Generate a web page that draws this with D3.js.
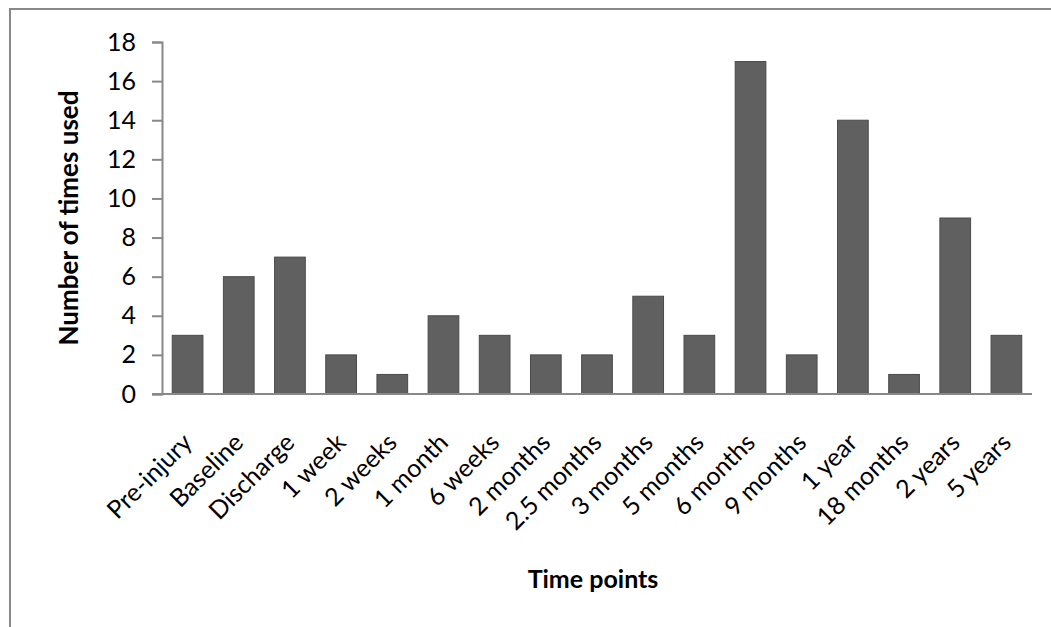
<!DOCTYPE html>
<html><head><meta charset="utf-8">
<script src="https://cdn.jsdelivr.net/npm/d3@7"></script>
<style>body{margin:0;background:#fff;} svg{display:block;} text{font-family:Lato,"Open Sans",sans-serif;fill:#000;}</style>
</head><body>
<svg id="c" width="1051" height="627"></svg>
<script>
const categories = ["Pre-injury","Baseline","Discharge","1 week","2 weeks","1 month","6 weeks","2 months","2.5 months","3 months","5 months","6 months","9 months","1 year","18 months","2 years","5 years"];
const values = [3,6,7,2,1,4,3,2,2,5,3,17,2,14,1,9,3];
const yTicks = [0,2,4,6,8,10,12,14,16,18];
const yTitle = "Number of times used";
const xTitle = "Time points";

const svg = d3.select("#c");
const m = {left:162, right:1032, top:42, bottom:394};
svg.append("rect").attr("x",10).attr("y",9).attr("width",1100).attr("height",700)
  .attr("fill","none").attr("stroke","#888").attr("stroke-width",2);

const x = d3.scaleBand().domain(categories).range([m.left,m.right]).paddingInner(0.4).paddingOuter(0.2);
const y = d3.scaleLinear().domain([0,18]).range([m.bottom,m.top]);

svg.selectAll("rect.bar").data(values).join("rect").attr("class","bar")
  .attr("x",(d,i)=>x(categories[i])).attr("width",x.bandwidth())
  .attr("y",d=>y(d)).attr("height",d=>y(0)-y(d))
  .attr("fill","#606060").attr("stroke","#4a4a4a").attr("stroke-width",1);

const ya = svg.append("g").attr("transform",`translate(${m.left},0)`)
  .call(d3.axisLeft(y).tickValues(yTicks).tickSize(10).tickPadding(16).tickFormat(d3.format("d")));
ya.select(".domain").attr("stroke","#888").attr("stroke-width",2);
ya.selectAll(".tick line").attr("stroke","#888").attr("stroke-width",2);
ya.selectAll(".tick text").attr("font-size",25).attr("font-family","Lato");

const xa = svg.append("g").attr("transform",`translate(0,${m.bottom})`)
  .call(d3.axisBottom(x).tickSize(0).tickSizeOuter(0).tickPadding(0));
xa.select(".domain").attr("stroke","#888").attr("stroke-width",2).attr("d",`M${m.left-10},0H${m.right}`);
xa.selectAll(".tick text").attr("font-size",25).attr("font-family","Lato")
  .attr("text-anchor","end").attr("dy",null).attr("y",0)
  .attr("transform","translate(-8,36) rotate(-45)").attr("dominant-baseline","hanging");

svg.append("text").attr("transform",`translate(78,${(m.top+m.bottom)/2}) rotate(-90)`)
  .attr("text-anchor","middle").attr("font-size",26).attr("font-weight","bold").text(yTitle);
svg.append("text").attr("x",(m.left+m.right)/2-4).attr("y",588)
  .attr("text-anchor","middle").attr("font-size",25).attr("font-weight","bold").text(xTitle);
</script>
</body></html>
